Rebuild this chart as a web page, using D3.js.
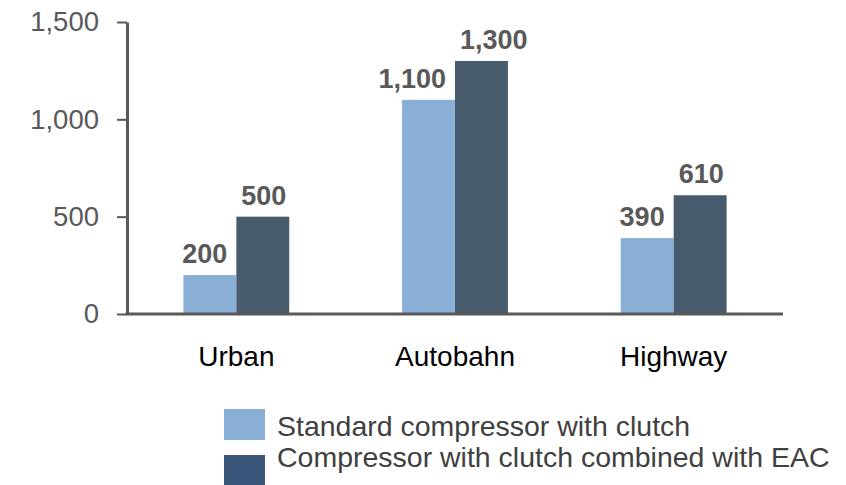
<!DOCTYPE html>
<html>
<head>
<meta charset="utf-8">
<script src="https://cdn.jsdelivr.net/npm/d3@7"></script>
<style>
  html, body { margin: 0; padding: 0; background: #fff; }
  svg { display: block; font-family: "Liberation Sans", Arial, sans-serif; }
</style>
</head>
<body>
<svg id="chart" width="846" height="485"></svg>
<script>
const categories = ["Urban", "Autobahn", "Highway"];
const seriesNames = ["Standard compressor with clutch", "Compressor with clutch combined with EAC"];
const standardValues = [200, 1100, 390];
const eacValues = [500, 1300, 610];
const yTicks = [0, 500, 1000, 1500];

const barColors = ["#8aafd7", "#475b6d"];
const legendColors = ["#8aafd7", "#3a5577"];
const axisColor = "#595959";

const svg = d3.select("#chart");

const x0 = d3.scaleBand().domain(categories).range([127, 783])
  .paddingInner(0.516).paddingOuter(0.258);
const x1 = d3.scaleBand().domain(seriesNames).range([0, x0.bandwidth()]).padding(0);
const y = d3.scaleLinear().domain([0, 1500]).range([314, 22]);

const rows = categories.map((c, i) => ({
  cat: c,
  vals: [
    { s: seriesNames[0], v: standardValues[i], k: 0 },
    { s: seriesNames[1], v: eacValues[i], k: 1 }
  ]
}));

// bars
const groups = svg.append("g").selectAll("g").data(rows).join("g")
  .attr("transform", d => `translate(${x0(d.cat)},0)`);

groups.selectAll("rect").data(d => d.vals).join("rect")
  .attr("x", d => x1(d.s))
  .attr("width", x1.bandwidth())
  .attr("y", d => y(d.v))
  .attr("height", d => y(0) - y(d.v))
  .attr("fill", d => barColors[d.k]);

// value labels: light series labels lean left, dark series labels lean right
groups.selectAll("text.val").data(d => d.vals).join("text")
  .attr("class", "val")
  .attr("x", d => d.k === 0 ? x1(d.s) + x1.bandwidth() - 9 : x1(d.s) + 5)
  .attr("y", d => y(d.v) - 12)
  .attr("text-anchor", d => d.k === 0 ? "end" : "start")
  .attr("font-size", 27)
  .attr("font-weight", "bold")
  .attr("fill", "#595959")
  .text(d => d3.format(",")(d.v));

// y axis
const yAxis = svg.append("g").attr("transform", "translate(127,0)")
  .call(d3.axisLeft(y).tickValues(yTicks).tickFormat(d3.format(","))
    .tickSizeInner(10).tickSizeOuter(0).tickPadding(18));
yAxis.select(".domain").attr("stroke", axisColor).attr("stroke-width", 3);
yAxis.selectAll(".tick line").attr("stroke", axisColor).attr("stroke-width", 2);
yAxis.selectAll(".tick text")
  .attr("font-size", 27.5)
  .attr("fill", "#595959")
  .attr("font-family", "Liberation Sans, Arial, sans-serif");

// x axis
const xAxis = svg.append("g").attr("transform", "translate(0,314)")
  .call(d3.axisBottom(x0).tickSize(0).tickSizeOuter(0));
xAxis.select(".domain").attr("stroke", axisColor).attr("stroke-width", 3)
  .attr("d", "M125.5,0H783");
xAxis.selectAll(".tick text")
  .attr("dy", null)
  .attr("y", 52)
  .attr("font-size", 28)
  .attr("fill", "#000")
  .attr("font-family", "Liberation Sans, Arial, sans-serif");

// legend
const legendY = [409, 455];
const legendBaseline = [436, 467];
const legend = svg.append("g");
legend.selectAll("rect").data(seriesNames).join("rect")
  .attr("x", 224)
  .attr("y", (d, i) => legendY[i])
  .attr("width", 41)
  .attr("height", 31)
  .attr("fill", (d, i) => legendColors[i]);
legend.selectAll("text").data(seriesNames).join("text")
  .attr("transform", (d, i) => `translate(277,${legendBaseline[i]}) scale(1.055,1)`)
  .attr("font-size", 27)
  .attr("fill", "#404040")
  .text(d => d);
</script>
</body>
</html>
